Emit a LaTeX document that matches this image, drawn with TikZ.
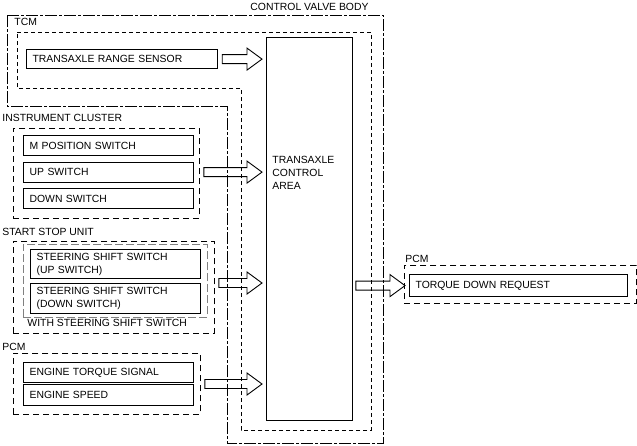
\documentclass[tikz,border=0pt]{standalone}
\usepackage{fontspec}
\setmainfont{Liberation Sans}
\usetikzlibrary{calc}
\begin{document}
\begin{tikzpicture}[x=1pt,y=-1pt,line width=0.9pt,font=\fontsize{10.4}{13}\selectfont,
	part/.style={draw,line width=1.2pt,anchor=north west,inner xsep=6pt,inner ysep=0pt,align=left,text width=158pt,minimum height=20pt},
	group/.style={draw,dash pattern=on 6pt off 4pt,anchor=north west,inner sep=0pt},
	tag/.style={anchor=west,inner sep=0pt},
	hollow/.style={to path={let \p1=(\tikztostart),\p2=(\tikztotarget) in (\x1,\y1+4.5) -- (\x2-15,\y1+4.5) -- (\x2-15,\y1+11) -- (\x2,\y1) -- (\x2-15,\y1-11) -- (\x2-15,\y1-4.5) -- (\x1,\y1-4.5) -- cycle}}]
	\useasboundingbox (0,0) rectangle (637,445);
	\draw[dash pattern=on 12pt off 2pt on 3pt off 2pt] (7,15) -- (383,15) -- (383,443) -- (227,443) -- (227,106) -- (7,106) -- cycle;
	\draw[dash pattern=on 4pt off 3pt] (17,32) -- (371,32) -- (371,430) -- (241,430) -- (241,88) -- (17,88) -- cycle;
	\node[tag] (cvb) at (250,7) {CONTROL VALVE BODY};
	\node[tag] (tcm) at (14,22) {TCM};
	\node[part,text width=179pt,minimum height=19pt] (sensor) at (26,49) {TRANSAXLE RANGE SENSOR};
	\node[draw,anchor=north west,minimum width=86pt,minimum height=383pt] (area) at (266,37) {};
	\node[tag,align=left] (areatext) at (272,173) {TRANSAXLE\\CONTROL\\AREA};
	\node[tag] (iclabel) at (2,118) {INSTRUMENT CLUSTER};
	\node[group,minimum width=186pt,minimum height=90pt] (ic) at (13,128) {};
	\foreach \t [count=\i] in {M POSITION SWITCH,UP SWITCH,DOWN SWITCH}
		\node[part] (ic\i) at (23,{135+26.5*(\i-1)}) {\t};
	\node[tag] (sslabel) at (2,232) {START STOP UNIT};
	\node[group,minimum width=201pt,minimum height=92pt] (ss) at (13,241) {};
	\node[group,gray,dash pattern=on 8pt off 3pt,minimum width=184pt,minimum height=73pt] (sssw) at (23,244) {};
	\node[part,minimum height=29pt] (ssup) at (30,249) {STEERING SHIFT SWITCH\\(UP SWITCH)};
	\node[part,minimum height=30pt] (ssdn) at (30,283) {STEERING SHIFT SWITCH\\(DOWN SWITCH)};
	\node[tag] (sswith) at (27,323) {WITH STEERING SHIFT SWITCH};
	\node[tag] (pcmlabel) at (2,347) {PCM};
	\node[group,minimum width=187pt,minimum height=61pt] (pcm) at (13,353) {};
	\node[part] (pcm1) at (23,362) {ENGINE TORQUE SIGNAL};
	\node[part,minimum height=21pt] (pcm2) at (23,384) {ENGINE SPEED};
	\node[tag] (pcmrlabel) at (405,259) {PCM};
	\node[group,minimum width=232pt,minimum height=38pt] (pcmr) at (404,265) {};
	\node[part,text width=206pt,minimum height=22pt] (torque) at (409,274) {TORQUE DOWN REQUEST};
	\foreach \g/\r in {sensor/sensor,ic/ic2,ss/ssdn.north,pcm/pcm2.north}
		\draw[hollow] ($(\g.east |- \r)+(4,0)$) to ($(area.west |- \r)+(-4,0)$);
	\draw[hollow] ($(area.east |- torque)+(3,0)$) to ($(pcmr.west |- torque)+(1,0)$);
\end{tikzpicture}
\end{document}
